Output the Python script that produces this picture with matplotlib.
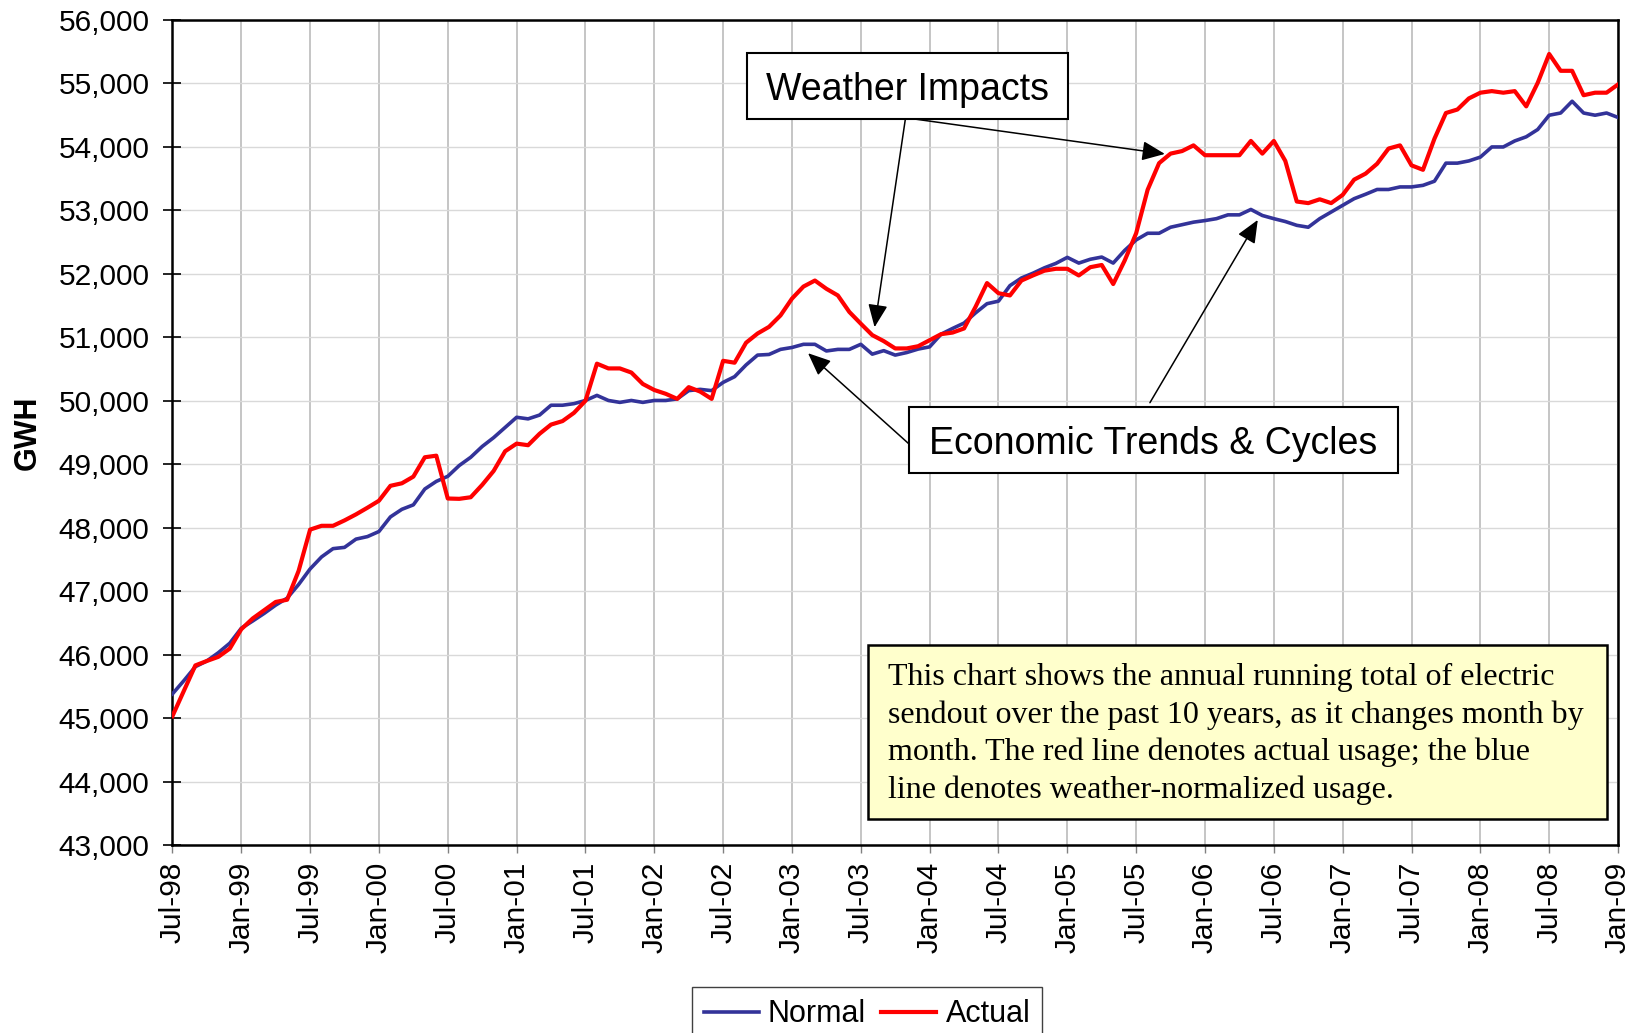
import numpy as np
import matplotlib.pyplot as plt
from matplotlib.patches import Rectangle
from matplotlib.ticker import FuncFormatter

plt.rcParams['font.family'] = ['Liberation Sans', 'DejaVu Sans']

# monthly running totals, Jul-98 .. Jan-09 (GWH)
normal = [45380, 45590, 45810, 45900, 46030, 46180, 46415, 46530, 46650, 46780,
          46890, 47105, 47350, 47540, 47670, 47690, 47820, 47860, 47940, 48170,
          48290, 48360, 48610, 48730, 48810, 48980, 49110, 49280, 49420, 49580,
          49740, 49715, 49775, 49930, 49930, 49955, 50005, 50085, 50005, 49975,
          50005, 49975, 50005, 50005, 50030, 50160, 50180, 50160, 50290, 50380,
          50565, 50720, 50730, 50810, 50840, 50890, 50890, 50785, 50810, 50810,
          50890, 50735, 50790, 50720, 50760, 50815, 50850, 51050, 51140, 51225,
          51385, 51530, 51570, 51815, 51935, 52010, 52095, 52165, 52260, 52170,
          52230, 52265, 52170, 52370, 52535, 52640, 52640, 52735, 52775, 52815,
          52840, 52870, 52930, 52930, 53015, 52920, 52870, 52825, 52765, 52735,
          52870, 52975, 53080, 53185, 53255, 53330, 53330, 53370, 53370, 53395,
          53460, 53745, 53745, 53780, 53840, 54000, 54000, 54095, 54160, 54275,
          54500, 54535, 54720, 54535, 54500, 54535, 54465]

actual = [45030, 45430, 45830, 45900, 45965, 46095, 46400, 46570, 46700, 46830,
          46865, 47320, 47970, 48030, 48030, 48115, 48210, 48315, 48425, 48660,
          48700, 48805, 49110, 49135, 48460, 48455, 48480, 48675, 48895, 49205,
          49325, 49300, 49480, 49625, 49680, 49810, 50000, 50585, 50510, 50510,
          50445, 50265, 50170, 50110, 50030, 50215, 50145, 50030, 50630, 50600,
          50915, 51060, 51165, 51345, 51610, 51800, 51895, 51765, 51660, 51400,
          51215, 51035, 50940, 50825, 50825, 50860, 50955, 51050, 51075, 51140,
          51480, 51855, 51695, 51660, 51895, 51975, 52050, 52080, 52080, 51975,
          52105, 52140, 51840, 52210, 52640, 53325, 53745, 53895, 53935, 54025,
          53870, 53870, 53870, 53870, 54095, 53895, 54095, 53780, 53140, 53115,
          53175, 53115, 53245, 53485, 53580, 53735, 53975, 54025, 53710, 53640,
          54130, 54535, 54590, 54765, 54855, 54880, 54855, 54880, 54640, 55010,
          55465, 55200, 55200, 54815, 54855, 54855, 54985]

tick_labels = ['Jul-98', 'Jan-99', 'Jul-99', 'Jan-00', 'Jul-00', 'Jan-01',
               'Jul-01', 'Jan-02', 'Jul-02', 'Jan-03', 'Jul-03', 'Jan-04',
               'Jul-04', 'Jan-05', 'Jul-05', 'Jan-06', 'Jul-06', 'Jan-07',
               'Jul-07', 'Jan-08', 'Jul-08', 'Jan-09']

note = ("This chart shows the annual running total of electric\n"
        "sendout over the past 10 years, as it changes month by\n"
        "month. The red line denotes actual usage; the blue\n"
        "line denotes weather-normalized usage.")

months = np.arange(len(normal))

fig = plt.figure(figsize=(16.39, 10.33), dpi=100)
ax = fig.add_axes([0.1052, 0.182, 0.882, 0.7986])

ax.plot(months, normal, color='#333399', lw=2.6, label='Normal', zorder=3)
ax.plot(months, actual, color='#ff0000', lw=3.0, label='Actual', zorder=4)

ax.set_xlim(0, len(normal) - 1)
ax.set_ylim(43000, 56000)
ax.set_xticks(np.arange(0, len(normal), 6))
ax.set_xticklabels(tick_labels, rotation=90, fontsize=21.5)
ax.set_yticks(np.arange(43000, 56001, 1000))
ax.yaxis.set_major_formatter(FuncFormatter(lambda v, p: f'{v:,.0f}'))
ax.tick_params(axis='y', labelsize=21.5, direction='inout', length=13,
               width=1.2, pad=10)
ax.tick_params(axis='x', direction='out', length=6, width=1.0,
               color='#808080', pad=6)

# grid: vertical every 6 months, horizontal every 1000
ax.grid(axis='x', color='#c0c0c0', lw=1.3)
ax.grid(axis='y', color='#d9d9d9', lw=1.0)
ax.set_axisbelow(True)
for s in ax.spines.values():
    s.set_linewidth(1.8)
    s.set_color('black')

ax.set_ylabel('GWH', fontsize=22, fontweight='bold')
ax.yaxis.set_label_coords(-0.090, 0.5)

# callout boxes
ax.add_patch(Rectangle((0.3974, 0.880), 0.2221, 0.080, transform=ax.transAxes,
                       fc='white', ec='black', lw=1.5, zorder=6))
ax.text(0.5085, 0.9026, 'Weather Impacts', transform=ax.transAxes,
        fontsize=27, ha='center', va='baseline', zorder=7)
ax.add_patch(Rectangle((0.5094, 0.4515), 0.3382, 0.0799, transform=ax.transAxes,
                       fc='white', ec='black', lw=1.5, zorder=6))
ax.text(0.6785, 0.4743, 'Economic Trends & Cycles', transform=ax.transAxes,
        fontsize=27, ha='center', va='baseline', zorder=7)

arrow = dict(arrowstyle='-|>,head_length=0.7,head_width=0.3', color='black',
             lw=1.1, shrinkA=0, shrinkB=0, mutation_scale=20)
ax.annotate('', xy=(61.2, 51160), xytext=(63.9, 54460), arrowprops=arrow,
            zorder=5)
ax.annotate('', xy=(86.5, 53890), xytext=(63.9, 54460), arrowprops=arrow,
            zorder=5)
ax.annotate('', xy=(55.4, 50750), xytext=(64.2, 49320), arrowprops=arrow,
            zorder=5)
ax.annotate('', xy=(94.6, 52850), xytext=(85.2, 49970), arrowprops=arrow,
            zorder=5)

# explanatory note
ax.add_patch(Rectangle((0.4809, 0.0321), 0.5112, 0.2103, transform=ax.transAxes,
                       fc='#ffffcc', ec='black', lw=1.8, zorder=6))
ax.text(0.4953, 0.1345, note, transform=ax.transAxes, fontsize=23,
        family=['Liberation Serif', 'DejaVu Serif'], ha='left', va='center',
        linespacing=1.36, zorder=7)

fig.legend(loc='upper center', bbox_to_anchor=(0.529, 0.0445), ncol=2,
           fontsize=22, frameon=True, fancybox=False, edgecolor='#404040',
           framealpha=1, handlelength=1.8, handletextpad=0.3,
           columnspacing=0.5, borderpad=0.4, borderaxespad=0)

fig.savefig('out.png', dpi=100)
